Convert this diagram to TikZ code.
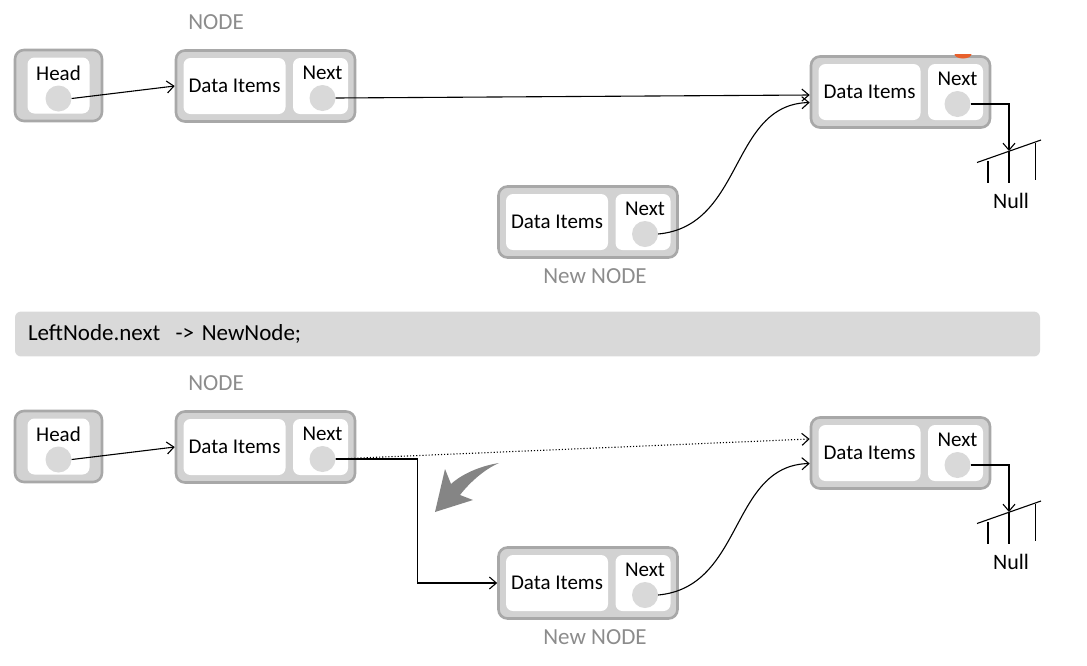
\documentclass[tikz,border=0pt]{standalone}
\usepackage{fontspec}
\setmainfont{Carlito}
\usetikzlibrary{arrows.meta, positioning}
\definecolor{boxgray}{HTML}{D2D2D2}
\definecolor{edgegray}{HTML}{A8A8A8}
\definecolor{dotgray}{HTML}{D9D9D9}
\definecolor{labelgray}{HTML}{8C8C8C}
\definecolor{bargray}{HTML}{D9D9D9}
\definecolor{bendgray}{HTML}{858585}
\definecolor{markorange}{HTML}{E8602C}

\begin{document}
\begin{tikzpicture}[x=1pt, y=-1pt,
    outerbox/.style={draw=edgegray, line width=2.6pt, fill=boxgray, rounded corners=9pt, minimum width=179pt, minimum height=71pt, inner sep=0pt},
    innerbox/.style={fill=white, rounded corners=7pt, minimum height=56pt, inner sep=0pt, font=\fontsize{21}{24}\selectfont},
    celltext/.style={inner sep=0pt, font=\fontsize{21}{24}\selectfont},
    dot/.style={circle, fill=dotgray, minimum size=26pt, inner sep=0pt},
    caption/.style={inner sep=0pt, text=labelgray, font=\fontsize{23}{26}\selectfont},
    wire/.style={line width=1.1pt, black},
    arr/.style={wire, -{Straight Barb[length=7pt, width=12pt]}},
    codebar/.style={fill=bargray, rounded corners=6pt, minimum width=1025pt, minimum height=44pt, text width=999pt, inner sep=13pt, align=left, font=\fontsize{23}{26}\selectfont}]
  \useasboundingbox (0,0) rectangle (1087,665);

  % two panels: before and after the insertion
  \foreach \p/\dy in {1/0, 2/361}{
    \begin{scope}[yshift=-\dy pt]
      % head pointer
      \node[outerbox, minimum width=87pt] (head\p) at (58.5,85.5) {};
      \node[innerbox, minimum width=62pt] (head\p-in) at (head\p.center) {};
      \node[celltext] at ([yshift=12pt]head\p-in.center) {Head};
      \node[dot] (head\p-dot) at ([yshift=-13pt]head\p-in.center) {};
      % list nodes
      \foreach \n/\x/\y in {left/265.5/86, right/900.5/92, new/588/222}{
        \node[outerbox] (\n\p) at (\x,\y) {};
        \node[innerbox, minimum width=102pt] (\n\p-data) at ([xshift=-31pt]\n\p.center) {Data Items};
        \node[innerbox, minimum width=55pt] (\n\p-next) at ([xshift=55pt]\n\p.center) {};
        \node[celltext] at ([xshift=2pt, yshift=13pt]\n\p-next.center) {Next};
        \node[dot] (\n\p-dot) at ([xshift=2pt, yshift=-12pt]\n\p-next.center) {};
      }
      \node[caption] (left\p-cap) at (216,22) {NODE};
      \node[caption] (new\p-cap) at (595,276) {New NODE};
      % null ground
      \coordinate (gnd\p) at (1009,151);
      \draw[wire] (977,162.5) -- (1041,140);
      \draw[wire] (988,161) -- (988,183) (1009,151) -- (1009,183) (1035.5,143) -- (1035.5,180);
      \node[celltext, font=\fontsize{22}{25}\selectfont] (null\p) at (1011,201) {Null};
      % links
      \draw[arr] (head\p-dot.east) -- (left\p.west);
      \draw[arr] (new\p-dot.east) .. controls +(86,-8) and +(-80,2) .. ([yshift=-10.5pt]right\p.west);
      \draw[arr] (right\p-dot.east) -| (gnd\p);
    \end{scope}
  }
  \fill[markorange] (954.5,54) arc[start angle=180, end angle=360, x radius=8.5pt, y radius=4.5pt] -- cycle;

  % before: left node points to right node
  \draw[arr] (left1-dot.east) -- ([yshift=-3pt]right1.west);

  \node[codebar] (code) at (527.5,334) {LeftNode.next~ -> NewNode;};

  % after: old link dotted, new link to the new node
  \draw[wire, dotted, -{Straight Barb[length=7pt, width=12pt]}] (left2-dot.east) -- ([yshift=14pt]right2.west);
  \draw[arr] (left2-dot.east) -- ++(82,0) |- (new2.west);
  \fill[bendgray] (499,463) .. controls (480,466) and (462,474) .. (451,484) -- (445,469) -- (435,512)
    -- (473,500) -- (460,495) .. controls (470,482) and (485,469) .. (499,463) -- cycle;
\end{tikzpicture}
\end{document}
